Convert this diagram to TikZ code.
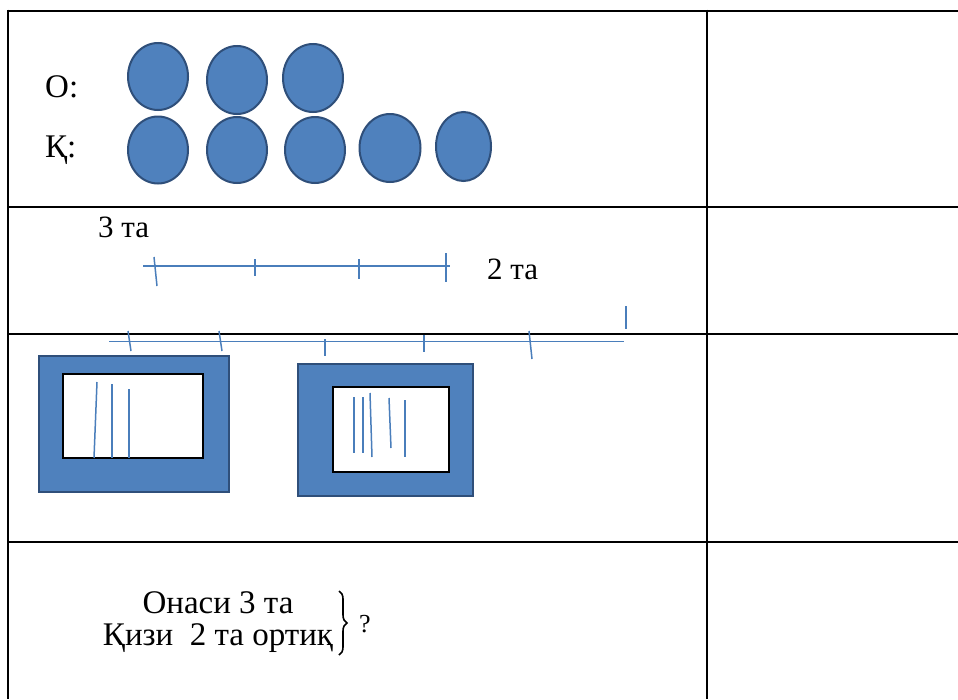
\documentclass[tikz,border=0pt]{standalone}
\usepackage{fontspec}
\setmainfont{Liberation Serif}
\usetikzlibrary{shapes.geometric,decorations.pathreplacing}
\definecolor{dotfill}{HTML}{4F81BD}
\definecolor{dotline}{HTML}{2F4F7A}
\definecolor{penblue}{HTML}{4A7EBB}
\tikzset{
  grid/.style={line width=2.8pt, black},
  dot/.style={ellipse, draw=dotline, fill=dotfill, line width=2pt, inner sep=0pt},
  pen/.style={penblue, line width=1.5pt},
  frame/.style={draw=dotline, fill=dotfill, line width=2.6pt},
  hole/.style={draw=black, fill=white, line width=1.5pt},
  lbl/.style={anchor=base west, inner sep=0pt, font=\fontsize{33}{33}\selectfont},
  lblsm/.style={anchor=base west, inner sep=0pt, font=\fontsize{31}{31}\selectfont}
}
\begin{document}
\begin{tikzpicture}[x=1pt,y=-1pt]
\useasboundingbox[fill=white] (0,0) rectangle (958,699);
% table
\draw[grid] (8,11) -- (958,11);
\draw[grid] (8,207) -- (958,207);
\draw[grid] (8,334) -- (958,334);
\draw[grid] (8,542) -- (958,542);
\draw[grid] (8,9.6) -- (8,699);
\draw[grid] (707,9.6) -- (707,699);
% row 1
\node[lbl] (lo) at (45,97) {О:};
\node[lbl] (lq) at (45,157) {Қ:};
\node[dot, minimum width=60, minimum height=67] (o1) at (158,76.5) {};
\node[dot, minimum width=60, minimum height=68] (o2) at (237,80) {};
\node[dot, minimum width=60, minimum height=68] (o3) at (313,78) {};
\node[dot, minimum width=60, minimum height=67] (q1) at (158,150) {};
\node[dot, minimum width=60, minimum height=66] (q2) at (237,150) {};
\node[dot, minimum width=60, minimum height=66] (q3) at (315,150) {};
\node[dot, minimum width=61, minimum height=68] (q4) at (390,148) {};
\node[dot, minimum width=55, minimum height=69] (q5) at (463.5,146.5) {};
% row 2
\node[lblsm] (t3) at (98,237) {3 та};
\node[lblsm] (t2) at (487,279) {2 та};
\draw[pen] (143,266) -- (450,266);
\draw[pen] (154,257) -- (157,286);
\draw[pen] (255,259) -- (255,276);
\draw[pen] (359,259) -- (359,279);
\draw[pen] (446,253) -- (446,282);
\draw[pen] (109,341.5) -- (624,341.5);
\draw[pen] (128,331) -- (131,351);
\draw[pen] (219,331) -- (222,351);
\draw[pen] (325,339) -- (325,356);
\draw[pen] (424,335) -- (424,352);
\draw[pen] (529,331) -- (532,359);
\draw[pen] (626,306) -- (626,329);
% row 3
\draw[frame] (39,356) rectangle (229,492);
\draw[hole] (63,374) rectangle (203,458);
\draw[pen] (97,382) -- (94,458);
\draw[pen] (112,384) -- (112,458);
\draw[pen] (129,389) -- (129,458);
\draw[frame] (298,364) rectangle (473,496);
\draw[hole] (333,387) rectangle (449,472);
\draw[pen] (354,397) -- (354,453);
\draw[pen] (363,397) -- (363,453);
\draw[pen] (370,393) -- (372,457);
\draw[pen] (389,398) -- (391,448);
\draw[pen] (405,400) -- (405,457);
% row 4
\node[anchor=base, inner sep=0pt, font=\fontsize{33}{33}\selectfont] (l1) at (218,613) {Онаси 3 та};
\node[anchor=base, inner sep=0pt, font=\fontsize{33}{33}\selectfont] (l2) at (218,645) {Қизи\ \ 2 та ортиқ};
\draw[black, line width=1.6pt, decorate, decoration={brace, amplitude=8pt}] (339,591) -- (339,655);
\node[anchor=base west, inner sep=0pt, font=\fontsize{26}{26}\selectfont] (qm) at (359,632) {?};
\end{tikzpicture}
\end{document}
